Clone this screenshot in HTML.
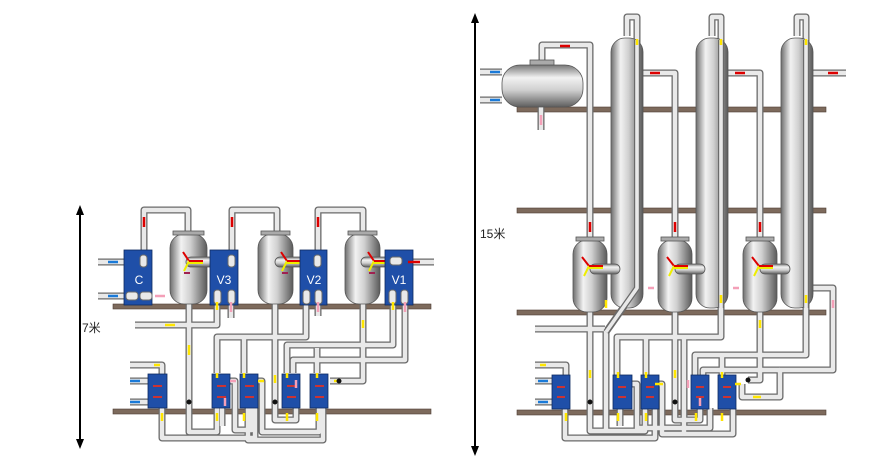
<!DOCTYPE html>
<html><head><meta charset="utf-8"><style>
html,body{margin:0;padding:0;background:#fff;}
svg{display:block;}
text{font-family:"Liberation Sans","Noto Sans CJK SC",sans-serif;}
</style></head><body>
<svg width="870" height="466" viewBox="0 0 870 466" xmlns="http://www.w3.org/2000/svg">
<defs>
<linearGradient id="vg" x1="0" x2="1" y1="0" y2="0">
<stop offset="0" stop-color="#6e6e6e"/><stop offset="0.3" stop-color="#f2f2f2"/><stop offset="0.55" stop-color="#d0d0d0"/><stop offset="1" stop-color="#5a5a5a"/>
</linearGradient>
<linearGradient id="hg" x1="0" x2="0" y1="0" y2="1">
<stop offset="0" stop-color="#777"/><stop offset="0.3" stop-color="#f2f2f2"/><stop offset="0.6" stop-color="#cfcfcf"/><stop offset="1" stop-color="#5e5e5e"/>
</linearGradient>
<g id="pipes" fill="none" stroke-linejoin="round" stroke-linecap="butt">
<path d="M144,258V210H188V234"/>
<path d="M232,258V210H277V234"/>
<path d="M318,258V210H363V234"/>
<path d="M98,262H128"/><path d="M98,296H128"/><path d="M400,262H434"/>
<path d="M135,325H217V300"/>
<path d="M231,300V318"/><path d="M318,300V316"/>
<path d="M189,304V432H217V408"/>
<path d="M217,373V337H306V300"/>
<path d="M244,337V373"/>
<path d="M275,304V420H296V408"/>
<path d="M393,300V345H287V373"/>
<path d="M405,300V360H293V373"/>
<path d="M363,304V381H330"/>
<path d="M317,348V373"/>
<path d="M229,381H235V430H252V408"/>
<path d="M255,381H262V432H319V408"/>
<path d="M162,408V438H255V408"/>
<path d="M222,408V426"/>
<path d="M248,408V440H323V408"/>
<path d="M130,365H162V375"/><path d="M130,381H150"/><path d="M130,402H150"/>
<path d="M542,62V45H590V242"/>
<path d="M480,72H502"/><path d="M480,100H502"/><path d="M541,107V130"/>
<path d="M643,73H675V242"/>
<path d="M728,73H760V242"/>
<path d="M813,73H846"/>
<path d="M627,36V17H637V288L606,332V432"/>
<path d="M712,36V17H721V337H617V375"/>
<path d="M797,36V17H806V355H695V375"/>
<path d="M813,288H833V370H780V397H742V384"/>
<path d="M703,382V370H780"/>
<path d="M535,329H605"/>
<path d="M535,365H566V375"/><path d="M535,381H552"/><path d="M535,402H552"/>
<path d="M590,312V431H645V408"/>
<path d="M675,312V420H700V408"/>
<path d="M760,312V380H748"/>
<path d="M646,337V375"/><path d="M684,337V432"/>
<path d="M722,355V375"/>
<path d="M565,408V438H655V408"/>
<path d="M630,384H637V428H710V408"/>
<path d="M656,384H662V434H733V408"/>
<path d="M620,408V426"/>
</g>
</defs>

<g fill="#7d6a5c" stroke="#4e3e33" stroke-width="0.6">
<rect x="113" y="304" width="318" height="5"/>
<rect x="113" y="409" width="318" height="5"/>
<rect x="517" y="107" width="309" height="5"/>
<rect x="517" y="208" width="309" height="5"/>
<rect x="517" y="310" width="309" height="5"/>
<rect x="517" y="410" width="309" height="5"/>
</g>

<use href="#pipes" stroke="#6a6a6a" stroke-width="7"/>
<use href="#pipes" stroke="#e9e9e9" stroke-width="4.4"/>

<g stroke="#000" stroke-width="2">
<line x1="80" y1="212" x2="80" y2="443"/>
<line x1="475" y1="20" x2="475" y2="450"/>
</g>
<path d="M80,205l-4,10h8z M80,449l-4,-10h8z M475,13l-4,10h8z M475,456l-4,-10h8z" fill="#000"/>
<text x="82" y="332" font-size="12" fill="#222">7米</text>
<text x="480" y="238" font-size="12" fill="#222">15米</text>

<g stroke="#555" stroke-width="0.8">
<rect x="170" y="234" width="37" height="70" rx="14" fill="url(#vg)"/>
<rect x="258" y="234" width="35" height="70" rx="14" fill="url(#vg)"/>
<rect x="345" y="234" width="35" height="70" rx="14" fill="url(#vg)"/>
<rect x="173" y="231" width="31" height="4" fill="#aaa"/>
<rect x="261" y="231" width="29" height="4" fill="#aaa"/>
<rect x="348" y="231" width="29" height="4" fill="#aaa"/>
<rect x="186" y="257" width="38" height="10" rx="5" fill="url(#hg)"/>
<rect x="275" y="257" width="33" height="10" rx="5" fill="url(#hg)"/>
<rect x="361" y="257" width="33" height="10" rx="5" fill="url(#hg)"/>
</g>
<g stroke-width="2" fill="none">
<path d="M183,252l6,9M281,252l6,9M368,252l6,9" stroke="#d00"/>
<path d="M189,261l-5,10M287,261l-5,10M374,261l-5,10" stroke="#ee0"/>
<path d="M189,261h14M287,261h14M374,261h14" stroke="#d00"/>
<path d="M189,263h14M287,263h14M374,263h14" stroke="#ee0"/>
<path d="M184,273h6M282,273h6M369,273h6" stroke="#a02050"/>
</g>

<g fill="#1f4fa8" stroke="#0d2a60" stroke-width="0.8">
<rect x="124" y="250" width="28" height="55"/>
<rect x="210" y="250" width="28" height="55"/>
<rect x="300" y="250" width="27" height="55"/>
<rect x="385" y="250" width="28" height="55"/>
<rect x="148" y="374" width="19" height="34"/>
<rect x="212" y="374" width="18" height="34"/>
<rect x="240" y="374" width="18" height="34"/>
<rect x="282" y="374" width="18" height="34"/>
<rect x="310" y="374" width="18" height="34"/>
</g>
<g fill="#fff" font-size="12" text-anchor="middle">
<text x="139" y="284">C</text><text x="224" y="284">V3</text><text x="314" y="284">V2</text><text x="399" y="284">V1</text>
</g>
<g fill="#e9e9e9" stroke="#6a6a6a" stroke-width="1">
<rect x="140" y="255" width="7" height="12" rx="3"/><rect x="228" y="255" width="7" height="12" rx="3"/>
<rect x="314" y="255" width="7" height="12" rx="3"/><rect x="390" y="257" width="12" height="8" rx="3"/>
<rect x="126" y="292" width="12" height="8" rx="3"/><rect x="140" y="292" width="12" height="8" rx="3"/>
<rect x="214" y="290" width="7" height="14" rx="3"/><rect x="228" y="290" width="7" height="14" rx="3"/>
<rect x="303" y="290" width="7" height="14" rx="3"/><rect x="315" y="290" width="7" height="14" rx="3"/>
<rect x="389" y="290" width="7" height="14" rx="3"/><rect x="401" y="290" width="7" height="14" rx="3"/>
</g>
<g fill="#c33" stroke="none">
<rect x="153" y="385" width="9" height="2"/><rect x="217" y="385" width="9" height="2"/><rect x="245" y="385" width="9" height="2"/><rect x="287" y="385" width="9" height="2"/><rect x="315" y="385" width="9" height="2"/>
<rect x="153" y="396" width="9" height="2"/><rect x="217" y="396" width="9" height="2"/><rect x="245" y="396" width="9" height="2"/><rect x="287" y="396" width="9" height="2"/><rect x="315" y="396" width="9" height="2"/>
</g>

<g stroke="#555" stroke-width="0.8">
<rect x="502" y="65" width="81" height="42" rx="18" fill="url(#hg)"/>
<rect x="530" y="60" width="24" height="5" fill="#aaa"/>
</g>
<g stroke="#555" stroke-width="0.8" fill="url(#vg)">
<rect x="611" y="38" width="32" height="270" rx="14"/>
<rect x="696" y="38" width="32" height="270" rx="14"/>
<rect x="781" y="38" width="32" height="270" rx="14"/>
<rect x="573" y="240" width="34" height="72" rx="14"/>
<rect x="658" y="240" width="34" height="72" rx="14"/>
<rect x="743" y="240" width="34" height="72" rx="14"/>
</g>
<g fill="none" stroke-linejoin="round">
<path d="M637,40V288L606,332" stroke="#6a6a6a" stroke-width="6"/>
<path d="M637,40V288L606,332" stroke="#e9e9e9" stroke-width="3.6"/>
<path d="M721,40V308" stroke="#6a6a6a" stroke-width="6"/><path d="M721,40V308" stroke="#e9e9e9" stroke-width="3.6"/>
<path d="M806,40V308" stroke="#6a6a6a" stroke-width="6"/><path d="M806,40V308" stroke="#e9e9e9" stroke-width="3.6"/>
</g>
<g stroke="#555" stroke-width="0.8" fill="#aaa">
<rect x="576" y="237" width="28" height="4"/><rect x="661" y="237" width="28" height="4"/><rect x="746" y="237" width="28" height="4"/>
</g>
<g stroke="#555" stroke-width="0.8">
<rect x="590" y="264" width="30" height="10" rx="5" fill="url(#hg)"/>
<rect x="675" y="264" width="30" height="10" rx="5" fill="url(#hg)"/>
<rect x="760" y="264" width="30" height="10" rx="5" fill="url(#hg)"/>
</g>
<g stroke-width="2" fill="none">
<path d="M582,257l7,9M667,257l7,9M752,257l7,9" stroke="#d00"/>
<path d="M589,266l-5,10M674,266l-5,10M759,266l-5,10" stroke="#ee0"/>
<path d="M589,266h14M674,266h14M759,266h14" stroke="#d00"/>
<path d="M589,268h14M674,268h14M759,268h14" stroke="#ee0"/>
</g>

<g fill="#1f4fa8" stroke="#0d2a60" stroke-width="0.8">
<rect x="552" y="375" width="18" height="34"/>
<rect x="613" y="375" width="19" height="34"/>
<rect x="641" y="375" width="18" height="34"/>
<rect x="691" y="375" width="18" height="34"/>
<rect x="718" y="375" width="18" height="34"/>
</g>
<g fill="#c33">
<rect x="557" y="386" width="8" height="2"/><rect x="618" y="386" width="8" height="2"/><rect x="646" y="386" width="8" height="2"/><rect x="696" y="386" width="8" height="2"/><rect x="723" y="386" width="8" height="2"/>
<rect x="557" y="396" width="8" height="2"/><rect x="618" y="396" width="8" height="2"/><rect x="646" y="396" width="8" height="2"/><rect x="696" y="396" width="8" height="2"/><rect x="723" y="396" width="8" height="2"/>
</g>

<g stroke-width="2.5">
<path d="M144,217v10M232,217v10M318,217v10M420,262h-12M590,232v-10M675,232v-10M760,232v-10M570,46h-10M660,73h-10M745,73h-10M838,73h-10" stroke="#d00"/>
<path d="M118,262h-10M108,296h10M490,72h10M490,100h10M130,381h10M130,402h10M538,381h10M538,402h10" stroke="#1a7ad8"/>
<path d="M155,296h10M231,302v10M318,302v10M405,302v10M541,115v10M648,288h6M733,288h6M833,300v8M230,381h6M296,380v8M225,398v8M688,380v8M700,398v8" stroke="#f4a0b8"/>
<path d="M165,325h10M217,310v-8M189,345v10M393,310v-8M363,320v8M217,378v-5M244,378v-5M287,378v-5M317,378v-5M275,375v8M162,413v8M217,413v8M244,413v8M287,413v8M317,413v8M334,381h6M258,381h6M154,365h6M606,300v8M637,45v-6M721,45v-6M806,45v-6M721,295v8M806,295v8M760,320v8M590,370v8M675,370v8M646,378v-6M722,378v-6M618,378v-6M735,384h6M655,384h8M566,413v8M618,413v8M646,413v8M696,413v8M722,413v8M540,365h6M753,397h8" stroke="#ffe600"/>
</g>
<g fill="#111">
<circle cx="189" cy="402" r="2.5"/><circle cx="275" cy="402" r="2.5"/><circle cx="590" cy="402" r="2.5"/><circle cx="675" cy="402" r="2.5"/>
<circle cx="339" cy="381" r="2.5"/><circle cx="748" cy="380" r="2.5"/>
</g>
</svg>
</body></html>
